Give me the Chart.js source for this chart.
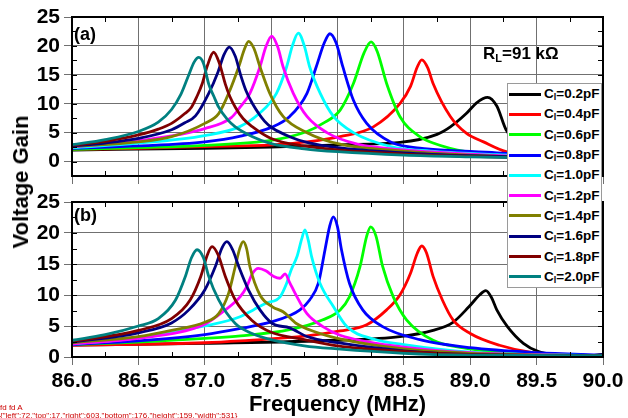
<!DOCTYPE html>
<html>
<head>
<meta charset="utf-8">
<script src="https://cdn.jsdelivr.net/npm/chart.js@4.4.0/dist/chart.umd.min.js"></script>
<style>
  body { margin: 0; background: #fff; font-family: "Liberation Sans", Arial, sans-serif; }
  #wrap { position: relative; width: 628px; height: 418px; overflow: hidden; background: #fff; }
  #chartA { position: absolute; left: 0; top: 0; }
  #chartB { position: absolute; left: 0; top: 190px; }
  .lbl { position: absolute; font-weight: bold; color: #000; white-space: nowrap; line-height: 1; }
  #ytitle { left: 21px; top: 182px; font-size: 22px; transform: translate(-50%, -50%) rotate(-90deg); }
  #legend { position: absolute; left: 507px; top: 83px; width: 93px; background: #fff; border: 1px solid #9a9a9a; }
  .row { height: 20.3px; display: flex; align-items: center; font-weight: bold; font-size: 13.5px; }
  .row .ln { width: 32px; height: 3px; margin-left: 1px; margin-right: 3px; }
  .row sub { font-size: 9px; vertical-align: -2px; }
  #dbg { position: absolute; left: 0; top: 404px; width: 240px; font-size: 8px; line-height: 1; color: #c00; }
</style>
</head>
<body>
<div id="wrap">
  <canvas id="chartA" width="628" height="190"></canvas>
  <canvas id="chartB" width="628" height="228"></canvas>
  <div class="lbl" style="left:74px; top:25px; font-size:18px;">(a)</div>
  <div class="lbl" style="left:74px; top:206px; font-size:18px;">(b)</div>
  <div class="lbl" style="left:483px; top:45px; font-size:17px;">R<sub style="font-size:11px; vertical-align:-3px;">L</sub>=91 kΩ</div>
  <div class="lbl" id="ytitle">Voltage Gain</div>
  <div id="legend"></div>
  <div id="dbg"></div>
</div>
<script>
// capacitance values, legend order
const capLabels = ['0.2', '0.4', '0.6', '0.8', '1.0', '1.2', '1.4', '1.6', '1.8', '2.0'];
const lineColors = ['#000000', '#ff0000', '#00ff00', '#0000ff', '#00ffff', '#ff00ff', '#808000', '#000080', '#800000', '#008080'];

// Panel (a): [frequency MHz, voltage gain]
const gainA_02 = [[86.0,2.0],[87.0,2.3],[87.5,2.5],[88.0,2.9],[88.47,3.3],[88.75,4.7],[88.85,6.0],[88.97,8.3],[89.05,10.2],[89.13,11.1],[89.2,9.6],[89.27,5.5],[89.4,2.3],[89.5,1.2],[89.75,0.5],[90.0,0.5]];
const gainA_04 = [[86.0,2.1],[86.5,2.3],[87.0,2.6],[87.51,2.9],[87.77,3.4],[88.02,4.3],[88.27,6.0],[88.47,10.0],[88.55,13.0],[88.6,16.3],[88.635,17.6],[88.68,16.2],[88.72,13.5],[88.85,7.8],[88.97,4.9],[89.1,3.4],[89.27,1.7],[89.5,1.0],[90.0,0.5]];
const gainA_06 = [[86.0,2.1],[86.5,2.4],[87.0,2.8],[87.51,3.7],[87.77,5.2],[87.89,6.6],[88.02,8.9],[88.12,13.5],[88.2,18.8],[88.253,20.7],[88.3,19.0],[88.37,13.5],[88.47,7.8],[88.62,4.3],[88.72,3.2],[88.97,1.7],[89.27,1.2],[89.6,0.8],[90.0,0.5]];
const gainA_08 = [[86.0,2.3],[86.5,2.7],[87.0,3.4],[87.27,4.4],[87.51,6.0],[87.64,7.8],[87.77,11.8],[87.84,16.4],[87.9,20.5],[87.943,22.1],[87.99,20.5],[88.04,16.4],[88.12,10.6],[88.22,6.6],[88.4,3.4],[88.62,2.3],[88.72,2.1],[89.2,1.5],[89.6,0.9],[90.0,0.6]];
const gainA_10 = [[86.0,2.4],[86.5,3.2],[87.0,4.5],[87.26,6.0],[87.41,8.3],[87.54,11.8],[87.617,16.4],[87.66,20.0],[87.705,22.2],[87.75,20.0],[87.79,16.4],[87.87,11.8],[87.97,7.8],[88.12,5.0],[88.4,2.6],[88.7,1.8],[89.2,1.2],[89.6,0.8],[90.0,0.6]];
const gainA_12 = [[86.0,2.5],[86.5,3.6],[87.0,5.7],[87.2,7.6],[87.266,9.4],[87.34,11.8],[87.416,16.4],[87.46,19.8],[87.504,21.7],[87.55,19.8],[87.59,16.4],[87.667,11.8],[87.77,7.8],[87.92,5.0],[88.15,3.0],[88.5,2.0],[89.0,1.3],[89.5,0.8],[90.0,0.6]];
const gainA_14 = [[86.0,2.6],[86.5,3.4],[86.75,4.3],[87.0,6.6],[87.105,8.3],[87.18,11.8],[87.256,16.4],[87.3,19.5],[87.33,20.8],[87.37,19.6],[87.416,16.4],[87.49,11.8],[87.59,7.8],[87.77,5.0],[88.02,3.0],[88.5,1.8],[89.0,1.1],[89.5,0.7],[90.0,0.5]];
const gainA_16 = [[86.0,2.7],[86.25,3.2],[86.5,4.0],[86.75,5.5],[86.85,6.7],[86.93,7.9],[87.03,11.8],[87.1,15.5],[87.145,18.5],[87.185,19.8],[87.23,18.2],[87.27,15.0],[87.31,12.3],[87.36,10.0],[87.45,7.0],[87.51,5.8],[87.64,4.3],[87.77,3.3],[88.0,2.4],[88.5,1.5],[89.0,1.0],[89.5,0.7],[90.0,0.5]];
const gainA_18 = [[86.0,2.8],[86.25,3.5],[86.5,4.6],[86.65,5.6],[86.75,6.6],[86.85,8.3],[86.9,9.4],[86.94,11.2],[86.98,13.4],[87.02,16.6],[87.067,18.9],[87.11,17.0],[87.155,13.4],[87.19,11.2],[87.23,9.4],[87.29,7.4],[87.36,6.0],[87.5,4.0],[87.75,2.7],[88.0,2.0],[88.5,1.3],[89.0,0.9],[89.5,0.6],[90.0,0.4]];
const gainA_20 = [[86.0,2.9],[86.25,3.8],[86.5,5.2],[86.65,6.8],[86.75,9.0],[86.82,11.6],[86.88,15.0],[86.92,17.2],[86.955,18.0],[86.99,17.0],[87.03,13.4],[87.07,11.2],[87.105,9.4],[87.17,7.3],[87.23,6.0],[87.36,4.3],[87.5,3.1],[87.75,2.2],[88.0,1.7],[88.5,1.1],[89.0,0.8],[89.5,0.6],[90.0,0.4]];

// Panel (b): [frequency MHz, voltage gain]
const gainB_02 = [[86.0,1.9],[87.0,2.2],[88.0,2.7],[88.47,3.3],[88.72,4.3],[88.87,5.6],[88.99,8.1],[89.07,10.0],[89.117,10.7],[89.16,9.6],[89.2,7.6],[89.28,4.9],[89.4,2.2],[89.51,0.9],[89.65,0.3],[89.8,0.05],[90.0,0.4]];
const gainB_04 = [[86.0,1.9],[87.0,2.3],[87.27,2.6],[87.77,3.4],[88.02,4.2],[88.22,5.2],[88.37,7.6],[88.47,10.0],[88.55,13.5],[88.6,16.7],[88.635,17.9],[88.67,16.8],[88.72,13.0],[88.79,9.2],[88.87,6.0],[89.0,3.8],[89.22,1.9],[89.47,0.7],[89.75,0.3],[90.0,0.1]];
const gainB_06 = [[86.0,2.0],[86.5,2.4],[87.0,3.0],[87.27,3.4],[87.64,4.4],[87.89,6.0],[88.02,7.6],[88.09,9.7],[88.17,14.6],[88.22,19.5],[88.25,21.0],[88.29,19.5],[88.34,14.6],[88.42,9.7],[88.52,6.0],[88.72,2.7],[88.97,1.4],[89.5,0.5],[90.0,0.2]];
const gainB_08 = [[86.0,2.0],[86.5,2.6],[87.0,3.6],[87.27,4.6],[87.51,5.7],[87.64,6.7],[87.717,7.6],[87.79,9.2],[87.856,11.9],[87.906,17.3],[87.94,21.0],[87.968,22.6],[88.0,21.0],[88.03,17.3],[88.09,11.9],[88.19,7.6],[88.34,4.9],[88.62,2.8],[89.0,1.5],[89.5,0.7],[90.0,0.3]];
const gainB_10 = [[86.0,2.1],[86.5,3.1],[87.0,5.0],[87.266,6.5],[87.366,7.6],[87.466,8.7],[87.567,9.7],[87.617,11.9],[87.65,14.0],[87.695,16.2],[87.73,19.0],[87.755,20.5],[87.78,18.8],[87.805,16.2],[87.868,11.9],[87.97,8.1],[88.07,4.9],[88.27,2.9],[88.5,2.0],[89.0,0.8],[90.0,0.2]];
const gainB_12 = [[86.0,2.1],[86.5,3.0],[87.0,5.3],[87.155,7.6],[87.266,9.7],[87.316,11.3],[87.36,13.5],[87.404,14.3],[87.46,13.9],[87.52,13.0],[87.567,12.7],[87.605,13.4],[87.64,12.0],[87.68,10.3],[87.77,7.0],[87.89,4.9],[88.02,3.5],[88.5,1.6],[89.0,0.7],[90.0,0.2]];
const gainB_14 = [[86.0,2.3],[86.5,3.3],[86.75,4.3],[87.0,5.6],[87.105,7.0],[87.18,10.3],[87.23,14.6],[87.265,17.6],[87.29,18.6],[87.315,17.5],[87.34,14.6],[87.416,10.0],[87.51,8.1],[87.59,7.3],[87.69,5.4],[87.84,4.0],[88.0,3.0],[88.5,1.3],[89.0,0.6],[90.0,0.2]];
const gainB_16 = [[86.0,2.4],[86.5,3.9],[86.75,5.5],[86.88,7.6],[87.0,10.8],[87.08,14.6],[87.13,17.6],[87.167,18.6],[87.21,17.3],[87.256,14.6],[87.33,10.8],[87.416,7.6],[87.51,5.4],[87.64,4.7],[87.77,3.3],[88.0,2.3],[88.5,1.0],[89.0,0.4],[90.0,0.2]];
const gainB_18 = [[86.0,2.5],[86.5,4.3],[86.75,6.2],[86.89,9.2],[86.97,13.0],[87.02,16.5],[87.055,17.8],[87.1,16.5],[87.155,13.0],[87.23,9.2],[87.356,5.9],[87.5,4.0],[87.75,2.8],[88.0,1.8],[88.5,0.9],[89.0,0.4],[90.0,0.2]];
const gainB_20 = [[86.0,2.7],[86.25,3.6],[86.5,5.0],[86.65,6.2],[86.78,9.2],[86.854,13.0],[86.9,16.0],[86.942,17.3],[86.99,16.0],[87.03,13.0],[87.105,9.2],[87.23,5.4],[87.356,3.8],[87.5,2.8],[87.75,1.8],[88.0,1.3],[88.5,0.6],[89.0,0.3],[90.0,0.2]];

const panelA = [gainA_02, gainA_04, gainA_06, gainA_08, gainA_10, gainA_12, gainA_14, gainA_16, gainA_18, gainA_20];
const panelB = [gainB_02, gainB_04, gainB_06, gainB_08, gainB_10, gainB_12, gainB_14, gainB_16, gainB_18, gainB_20];

const xTicks = [86.0, 86.5, 87.0, 87.5, 88.0, 88.5, 89.0, 89.5, 90.0];
const yTicks = [0, 5, 10, 15, 20, 25];
const log = [];

// frame box + inward minor ticks
const framePlugin = {
    id: 'panelFrame',
    afterDraw: (chart) => {
        log.push('fd');
        const ctx = chart.ctx, a = chart.chartArea;
        const xs = chart.scales.x, ys = chart.scales.y;
        ctx.save();
        ctx.setLineDash([]);
        ctx.globalAlpha = 1;
        ctx.strokeStyle = '#000';
        ctx.lineWidth = 1;
        ctx.beginPath();
        for (let i = 0; i < xTicks.length - 1; i++) {
            const px = Math.round(xs.getPixelForValue((xTicks[i] + xTicks[i + 1]) / 2)) + 0.5;
            ctx.moveTo(px, a.top); ctx.lineTo(px, a.top + 5);
            ctx.moveTo(px, a.bottom); ctx.lineTo(px, a.bottom - 5);
        }
        for (let v = 0; v <= 25; v += 2.5) {
            const py = Math.round(ys.getPixelForValue(v)) + 0.5;
            ctx.moveTo(a.left, py); ctx.lineTo(a.left + 5, py);
            ctx.moveTo(a.right, py); ctx.lineTo(a.right - 5, py);
        }
        ctx.stroke();
        ctx.lineWidth = 2;
        ctx.strokeRect(a.left, a.top, a.width, a.height);
        ctx.restore();
    }
};

const makeChart = (canvasId, series, yMin, padTop, xHeight, showX) => {
    const datasets = series.map((pts, i) => ({
        label: 'Cl=' + capLabels[i] + 'pF',
        data: pts.map(p => ({x: p[0], y: p[1]})),
        borderColor: lineColors[i],
        borderWidth: 2.8,
        pointRadius: 0,
        cubicInterpolationMode: 'monotone',
        order: series.length - i
    }));
    const ctx = document.getElementById(canvasId).getContext('2d');
    return new Chart(ctx, {
        type: 'line',
        data: {datasets: datasets},
        options: {
            responsive: false,
            animation: false,
            layout: {padding: {top: padTop, right: 25, left: 0, bottom: 0}},
            plugins: {legend: {display: false}, tooltip: {enabled: false}},
            scales: {
                x: {
                    type: 'linear',
                    min: 86, max: 90,
                    afterBuildTicks: s => { s.ticks = xTicks.map(v => ({value: v})); },
                    afterFit: s => { s.height = xHeight; s.paddingLeft = 0; s.paddingRight = 0; },
                    grid: {color: '#707070'},
                    ticks: {
                        display: showX,
                        padding: 4,
                        color: '#000',
                        font: {family: 'Liberation Sans', size: 21, weight: 'bold'},
                        callback: v => Number(v).toFixed(1)
                    },
                    title: {
                        display: showX,
                        text: 'Frequency (MHz)',
                        color: '#000',
                        padding: {top: 0, bottom: 0},
                        font: {family: 'Liberation Sans', size: 22, weight: 'bold'}
                    }
                },
                y: {
                    min: yMin, max: 25,
                    ticks: {
                        padding: 4,
                        color: '#000',
                        font: {family: 'Liberation Sans', size: 21, weight: 'bold'}
                    },
                    afterBuildTicks: s => { s.ticks = yTicks.map(v => ({value: v})); },
                    afterFit: s => { s.width = 72; s.paddingTop = 0; s.paddingBottom = 0; },
                    grid: {color: '#707070'}
                }
            }
        },
        plugins: [framePlugin]
    });
};

try {
    const chartA = makeChart('chartA', panelA, -2.5, 17, 14, false);
    const chartB = makeChart('chartB', panelB, 0, 12, 61, true);
    log.push('A ' + JSON.stringify(chartA.chartArea) + ' B ' + JSON.stringify(chartB.chartArea));
} catch (e) { log.push('ERR ' + e.message); }

// legend box spanning both panels
const legendBox = document.getElementById('legend');
capLabels.forEach((c, i) => {
    const row = document.createElement('div');
    row.className = 'row';
    row.innerHTML = `<span class="ln" style="background:${lineColors[i]}"></span><span>C<sub>l</sub>=${c}pF</span>`;
    legendBox.appendChild(row);
});
document.getElementById('dbg').textContent = log.join(' ');
</script>
</body>
</html>
